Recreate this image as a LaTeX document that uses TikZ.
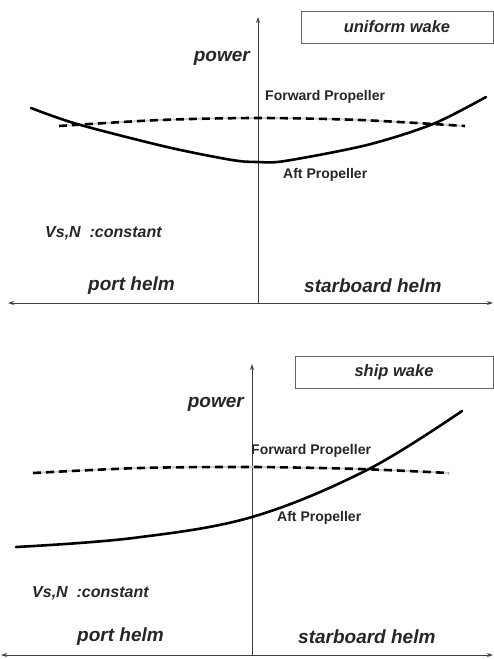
\documentclass[tikz,border=0pt]{standalone}
\usepackage{fontspec}
\setmainfont{Liberation Sans}
\usetikzlibrary{arrows.meta}
\begin{document}
\begin{tikzpicture}[x=1pt,y=-1pt,
  axis/.style={draw=black!75,line width=0.9pt,-{Stealth[length=6pt,width=4pt]}},
  curve/.style={line width=2.6pt,line cap=round},
  fwd/.style={line width=2.6pt,dash pattern=on 8pt off 5pt},
  under/.style={line width=1.8pt,black!20},
  big/.style={font=\fontsize{19}{21}\selectfont\bfseries\itshape,text=black!85,inner sep=0pt},
  mid/.style={font=\fontsize{16}{18}\selectfont\bfseries\itshape,text=black!85,inner sep=0pt},
  small/.style={font=\fontsize{14}{16}\selectfont\bfseries,text=black!85,inner sep=0pt},
  tag/.style={draw=black!60,line width=0.9pt,minimum width=192pt,minimum height=32pt,inner sep=0pt,font=\fontsize{16.5}{18}\selectfont\bfseries\itshape,text=black!85}]
\useasboundingbox (0,0) rectangle (494,659);
% ---------- top panel ----------
\coordinate (t0) at (258,303);
\coordinate (tTop) at (258,17);
\coordinate (tL) at (8,303);
\coordinate (tR) at (493,303);
\draw[axis] (t0) -- (tTop);
\draw[axis] (t0) -- (tL);
\draw[axis] (t0) -- (tR);
\node[tag] (tw) at (397,27) {uniform wake};
\node[big,anchor=east] (tpw) at (250,58) {power};
\node[small,anchor=west] (tfp) at (265,97) {Forward Propeller};
\node[small,anchor=west] (tap) at (283,175) {Aft Propeller};
\node[mid,anchor=west] (tvs) at (45,233) {Vs,N\ \ :constant};
\node[big,anchor=west] (tph) at (88,286) {port helm};
\node[big,anchor=west] (tsh) at (304,286) {starboard helm};
\draw[under] plot[smooth] coordinates {(59,126) (160,120) (258,118) (360,120) (465,126)};
\draw[fwd] plot[smooth] coordinates {(59,126) (160,120) (258,118) (360,120) (465,126)};
\draw[curve] plot[smooth,tension=0.5] coordinates {(31,108) (77,124) (167,147) (232,160) (258,162) (285,161) (367,145) (433,124) (486,97)};
% ---------- bottom panel ----------
\coordinate (b0) at (252,655);
\coordinate (bTop) at (252,364);
\coordinate (bL) at (1,655);
\coordinate (bR) at (493,655);
\draw[axis] (b0) -- (bTop);
\draw[axis] (b0) -- (bL);
\draw[axis] (b0) -- (bR);
\node[tag,minimum width=198pt] (bw) at (394,372) {ship wake};
\node[big,anchor=east] (bpw) at (244,404) {power};
\node[small,anchor=west] (bfp) at (251,451) {Forward Propeller};
\node[small,anchor=west] (bap) at (277,518) {Aft Propeller};
\node[mid,anchor=west] (bvs) at (32,593) {Vs,N\ \ :constant};
\node[big,anchor=west] (bph) at (77,637) {port helm};
\node[big,anchor=west] (bsh) at (298,637) {starboard helm};
\draw[under] plot[smooth] coordinates {(33,473) (140,468) (252,467) (360,469) (449,473)};
\draw[fwd] plot[smooth] coordinates {(33,473) (140,468) (252,467) (360,469) (449,473)};
\draw[curve] plot[smooth,tension=0.6] coordinates {(16,547) (133,538) (252,517) (367,470) (462,411)};
\end{tikzpicture}
\end{document}
